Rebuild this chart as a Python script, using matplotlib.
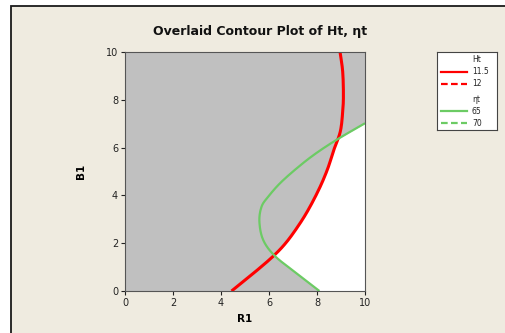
import numpy as np
import matplotlib.pyplot as plt
from matplotlib.lines import Line2D
from matplotlib.patches import Rectangle

# contour Ht = 11.5 (R1 as a function of B1)
ht_b1 = [0, 0.74, 1.46, 2.06, 2.83, 3.53, 4.36, 5.13, 5.9, 6.67, 7.5, 8.2, 9.18, 10]
ht_r1 = [4.44, 5.35, 6.18, 6.74, 7.29, 7.71, 8.13, 8.45, 8.7, 8.97, 9.07, 9.10, 9.07, 8.96]

# contour eta_t = 65
et_b1 = [0, 0.74, 1.46, 2.13, 2.9, 3.53, 3.95, 4.51, 5.13, 5.72, 6.33, 7.02]
et_r1 = [8.10, 7.15, 6.25, 5.76, 5.60, 5.69, 5.97, 6.46, 7.15, 7.9, 8.82, 10.0]


def smooth(x, y, n=12):
    # catmull-rom through the read points, just to draw a round curve
    p = np.column_stack([x, y]).astype(float)
    p = np.vstack([2 * p[0] - p[1], p, 2 * p[-1] - p[-2]])
    t = np.linspace(0, 1, n, endpoint=False)[:, None]
    out = []
    for i in range(1, len(p) - 2):
        p0, p1, p2, p3 = p[i - 1], p[i], p[i + 1], p[i + 2]
        out.append(0.5 * (2 * p1 + (-p0 + p2) * t + (2 * p0 - 5 * p1 + 4 * p2 - p3) * t ** 2
                          + (-p0 + 3 * p1 - 3 * p2 + p3) * t ** 3))
    out.append(p[-2][None, :])
    out = np.vstack(out)
    return out[:, 0], out[:, 1]


bg = '#EFEBE0'
fig = plt.figure(figsize=(5.05, 3.33), dpi=100, facecolor='white')
fig.patches.append(Rectangle((11 / 505, -0.1), 1.2, 1.1 - 6 / 333, transform=fig.transFigure,
                             facecolor=bg, edgecolor='#1a1a1a', lw=1.3, zorder=-10))

ax = fig.add_axes([0.2475, 0.1261, 0.4753, 0.7177])
ax.set_facecolor('#C0C0C0')

hx, hy = smooth(ht_r1, ht_b1)
ex, ey = smooth(et_r1, et_b1)

# feasible (white) region: right of both contours
yy = np.linspace(0, et_b1[-1], 400)
left = np.maximum(np.interp(yy, hy, hx), np.interp(yy, ey, ex))
ax.fill_betweenx(yy, left, 10, color='white', lw=0)

ax.plot(hx, hy, color='#FF0000', lw=2.2, solid_capstyle='butt')
ax.plot(ex, ey, color='#6CCB64', lw=1.6, solid_capstyle='butt')

ax.set_xlim(0, 10)
ax.set_ylim(0, 10)
ax.set_xticks(range(0, 11, 2))
ax.set_yticks(range(0, 11, 2))
ax.tick_params(direction='out', length=3, labelsize=7, colors='#222222', pad=2)
for s in ax.spines.values():
    s.set_color('#555555')
    s.set_linewidth(0.8)

ax.set_xlabel('R1', fontsize=7.5, fontweight='bold', labelpad=4)
ax.set_ylabel('B1', fontsize=7.5, fontweight='bold', labelpad=14)
fig.text(0.515, 0.905, 'Overlaid Contour Plot of Ht, ηt', ha='center', va='center',
         fontsize=9, fontweight='bold', color='#111111')

# legend box
lg = fig.add_axes([437 / 505, 1 - 130 / 333, 60 / 505, 78 / 333])
lg.set_xlim(0, 60)
lg.set_ylim(78, 0)
lg.set_xticks([])
lg.set_yticks([])
lg.set_facecolor('white')
for s in lg.spines.values():
    s.set_color('#444444')
    s.set_linewidth(0.8)
entries = [('Ht', None, None, 8),
           ('11.5', '#FF0000', '-', 20),
           ('12', '#FF0000', '--', 32),
           ('ηt', None, None, 48),
           ('65', '#6CCB64', '-', 59),
           ('70', '#6CCB64', '--', 71)]
for lab, col, ls, y in entries:
    if col is not None:
        lg.add_line(Line2D([4, 30], [y, y], color=col, ls=ls, lw=1.6,
                           dashes=(3, 1.5) if ls == '--' else (None, None)))
    lg.text(35, y, lab, fontsize=5.5, va='center', ha='left', color='#222222')

fig.savefig('out.png', dpi=100, facecolor='white')
